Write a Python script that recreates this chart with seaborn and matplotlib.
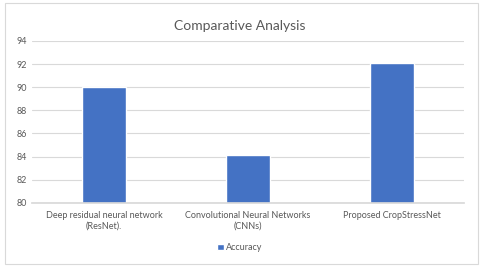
import pandas as pd
import matplotlib.pyplot as plt
import seaborn as sns
from matplotlib.patches import Rectangle

# data
models = ['Deep residual neural network\n(ResNet).',
          'Convolutional Neural Networks\n(CNNs)',
          'Proposed CropStressNet']
accuracy = [90.0, 84.1, 92.1]
y_ticks = [80, 82, 84, 86, 88, 90, 92, 94]

df = pd.DataFrame({'Model': models, 'Accuracy': accuracy})

sns.set_theme(style="white")
plt.rcParams['font.family'] = ['Lato', 'DejaVu Sans']
text_col = '#595959'

fig = plt.figure(figsize=(4.8, 2.67), dpi=100)
ax = fig.add_axes([0.067, 0.24, 0.9, 0.607])

sns.barplot(data=df, x='Model', y='Accuracy', color='#4472C4', width=0.31,
            saturation=1, ax=ax, label='Accuracy')

ax.set_ylim(80, 94)
ax.set_yticks(y_ticks)
ax.yaxis.grid(True, color='#D9D9D9', linewidth=0.8)
ax.set_axisbelow(True)
for s in ['top', 'right', 'left']:
    ax.spines[s].set_visible(False)
ax.spines['bottom'].set_color('#D9D9D9')
ax.set_xlabel('')
ax.set_ylabel('')
ax.tick_params(axis='both', length=0, labelsize=6.5, labelcolor=text_col, pad=4)
ax.tick_params(axis='x', pad=6)
for lbl in ax.get_xticklabels():
    lbl.set_multialignment('center')
if ax.legend_:
    ax.legend_.remove()

fig.legend(handles=ax.patches[:1], labels=['Accuracy'], loc='center',
           bbox_to_anchor=(0.5, 0.072), frameon=False, fontsize=6.5,
           labelcolor=text_col, handlelength=0.7, handleheight=0.7,
           handletextpad=0.3)

fig.suptitle('Comparative Analysis', y=0.925, fontsize=10, color=text_col)

# chart border
fig.patches.append(Rectangle((0.01, 0.012), 0.985, 0.975, transform=fig.transFigure,
                             fill=False, edgecolor='#D9D9D9', linewidth=0.8))

fig.savefig('out.png', dpi=100)
